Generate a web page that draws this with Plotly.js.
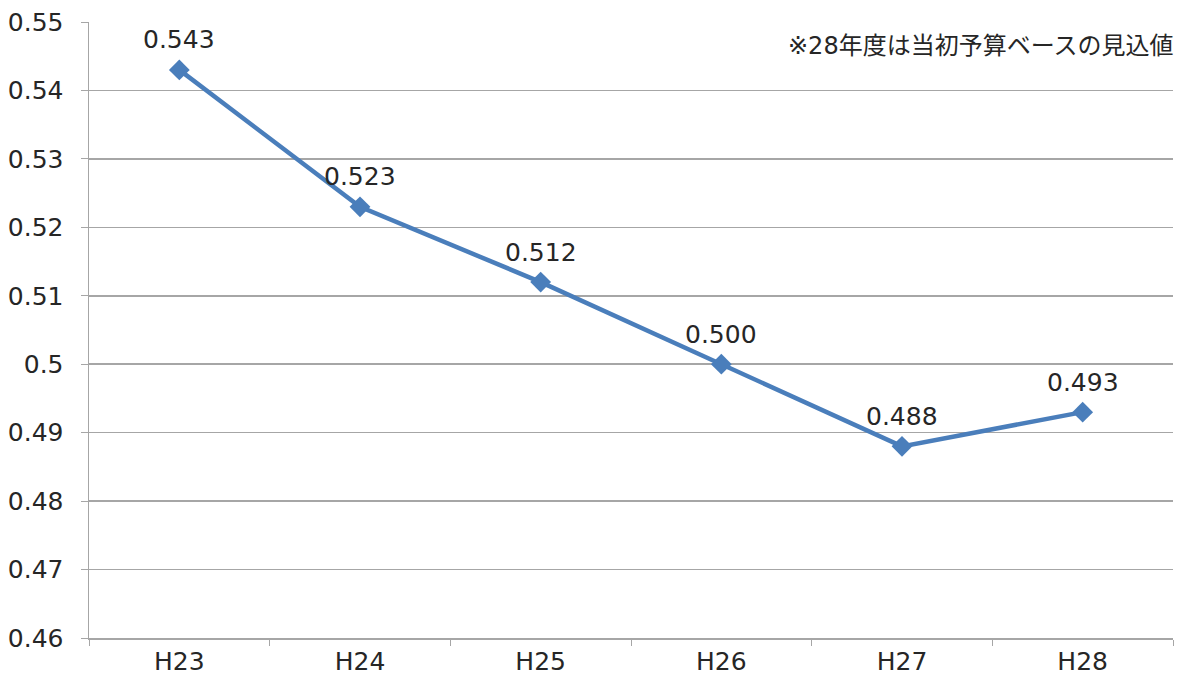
<!DOCTYPE html>
<html>
<head>
<meta charset="utf-8">
<script src="https://cdn.plot.ly/plotly-3.0.1.min.js"></script>
<style>html,body{margin:0;padding:0;background:#fff;}#chart{width:1181px;height:675px;}</style>
</head>
<body>
<div id="chart"></div>
<script>
var categories = ["H23", "H24", "H25", "H26", "H27", "H28"];
var values = [0.543, 0.523, 0.512, 0.500, 0.488, 0.493];
var yTicks = [0.46, 0.47, 0.48, 0.49, 0.50, 0.51, 0.52, 0.53, 0.54, 0.55];
var noteText = "※28年度は当初予算ベースの見込値";

var FONT = "'DejaVu Sans', 'Noto Sans CJK JP', sans-serif";
var TXT = "#262626";

var trace = {
  x: categories,
  y: values,
  type: "scatter",
  mode: "lines+markers",
  line: { color: "#4a7ebb", width: 4.5 },
  marker: { symbol: "diamond", size: 16, color: "#4a7ebb" },
  cliponaxis: false,
  hoverinfo: "x+y"
};

var labelAnnotations = categories.map(function (c, i) {
  return {
    x: c,
    y: values[i],
    xref: "x",
    yref: "y",
    text: values[i].toFixed(3),
    showarrow: false,
    yshift: 30,
    xanchor: "center",
    yanchor: "middle",
    font: { family: FONT, size: 25, color: TXT }
  };
});

var layout = {
  width: 1181,
  height: 675,
  margin: { l: 89, r: 8, t: 22, b: 37 },
  paper_bgcolor: "#fff",
  plot_bgcolor: "#fff",
  showlegend: false,
  font: { family: FONT, size: 24, color: TXT },
  xaxis: {
    type: "category",
    range: [-0.5, 5.5],
    tickson: "boundaries",
    ticks: "outside",
    ticklen: 6,
    tickcolor: "#a6a6a6",
    showline: true,
    linecolor: "#a6a6a6",
    linewidth: 1.5,
    showgrid: false,
    tickfont: { family: FONT, size: 25, color: TXT }
  },
  yaxis: {
    range: [0.46, 0.55],
    tickvals: yTicks,
    ticktext: yTicks.map(function (v) { return String(v); }),
    ticks: "outside",
    ticklen: 7,
    ticklabelstandoff: 12,
    tickcolor: "#a6a6a6",
    showline: true,
    linecolor: "#a6a6a6",
    linewidth: 1.5,
    showgrid: true,
    gridcolor: "#a6a6a6",
    gridwidth: 1.5,
    zeroline: false,
    tickfont: { family: FONT, size: 25, color: TXT }
  },
  annotations: labelAnnotations.concat([{
    text: noteText,
    xref: "paper",
    yref: "paper",
    x: 1.002,
    y: 0.961,
    xanchor: "right",
    yanchor: "middle",
    showarrow: false,
    font: { family: FONT, size: 24, color: TXT }
  }])
};

Plotly.newPlot("chart", [trace], layout, { displayModeBar: false, staticPlot: true });
</script>
</body>
</html>
